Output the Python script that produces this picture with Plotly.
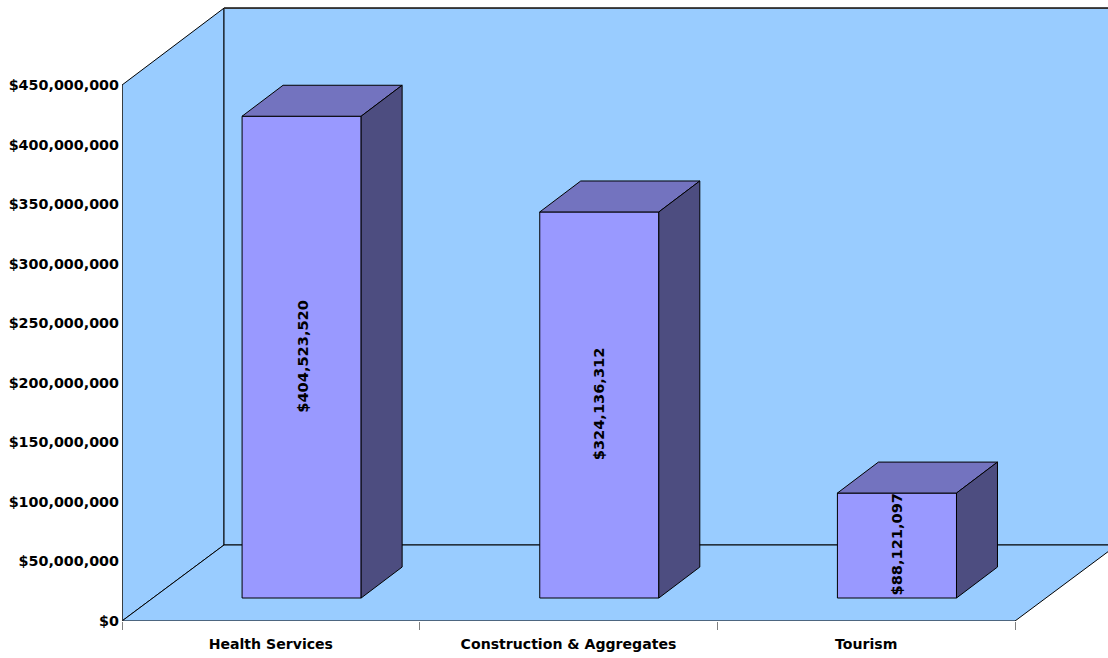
import plotly.graph_objects as go

categories = ["Health Services", "Construction & Aggregates", "Tourism"]
values = [404523520, 324136312, 88121097]
data_labels = ["$404,523,520", "$324,136,312", "$88,121,097"]
y_ticks = [0, 50e6, 100e6, 150e6, 200e6, 250e6, 300e6, 350e6, 400e6, 450e6]
y_tick_labels = ["$0", "$50,000,000", "$100,000,000", "$150,000,000", "$200,000,000",
                 "$250,000,000", "$300,000,000", "$350,000,000", "$400,000,000", "$450,000,000"]

WALL = "#99CCFF"
FRONT = "#9999FF"
TOP = "#7373BF"
SIDE = "#4D4D80"
FONT = "DejaVu Sans"

# axis geometry
y_max_axis = 450e6
y_top = 521.4e6
x_end = 3.3124
wall_dx, wall_dy = 0.3427, 63.8e6
wall_top = 514.6e6
bar_dx, bar_dy = 0.1377, 26.0e6
base_dx, base_dy = 0.1034, 19.3e6
bar_w = 0.4
bar_start = 0.3

fig = go.Figure()


def poly(xs, ys, color, width=1):
    fig.add_trace(go.Scatter(
        x=xs + xs[:1], y=ys + ys[:1], mode="lines", fill="toself", fillcolor=color,
        line=dict(color="#000000", width=width), hoverinfo="skip", showlegend=False,
        cliponaxis=False))


def edge(xs, ys):
    fig.add_trace(go.Scatter(
        x=xs, y=ys, mode="lines", line=dict(color="#333333", width=1.6),
        hoverinfo="skip", showlegend=False, cliponaxis=False))


n = len(categories)
# side wall, back wall, floor
poly([0, wall_dx, wall_dx, 0], [0, wall_dy, wall_top, y_max_axis], WALL)
poly([wall_dx, n + wall_dx, n + wall_dx, wall_dx],
     [wall_dy, wall_dy, wall_top, wall_top], WALL)
poly([0, n, n + wall_dx, wall_dx], [0, 0, wall_dy, wall_dy], WALL)
edge([0, 0], [0, y_max_axis])
edge([wall_dx, n + wall_dx], [wall_top, wall_top])

annotations = []
for i, (v, lab) in enumerate(zip(values, data_labels)):
    x0 = i + bar_start + base_dx
    x1 = x0 + bar_w
    y0 = base_dy
    y1 = base_dy + v
    poly([x0, x1, x1, x0], [y0, y0, y1, y1], FRONT)
    poly([x0, x1, x1 + bar_dx, x0 + bar_dx], [y1, y1, y1 + bar_dy, y1 + bar_dy], TOP)
    poly([x1, x1 + bar_dx, x1 + bar_dx, x1], [y0, y0 + bar_dy, y1 + bar_dy, y1], SIDE)
    annotations.append(dict(
        x=(x0 + x1) / 2, y=(y0 + y1) / 2, xref="x", yref="y", text=f"<b>{lab}</b>", textangle=-90,
        yshift=1, showarrow=False, font=dict(family=FONT, size=14.6, color="#000000")))

fig.update_layout(
    width=1108, height=658,
    margin=dict(l=122, r=0, t=0, b=37, autoexpand=False),
    paper_bgcolor="#FFFFFF", plot_bgcolor="#FFFFFF",
    showlegend=False, hovermode=False,
    annotations=annotations,
    font=dict(family=FONT, color="#000000"),
    xaxis=dict(
        range=[0, x_end], tickmode="array",
        tickvals=[i + 0.5 for i in range(n)], ticktext=[f"<b>{c}</b>" for c in categories],
        ticks="", showgrid=False, zeroline=False, showline=False, ticklabelstandoff=13,
        tickfont=dict(family=FONT, size=14.1, color="#000000"),
        minor=dict(tickmode="array", tickvals=list(range(n + 1)), ticks="outside",
                   ticklen=8, tickwidth=1, tickcolor="#808080", showgrid=False),
    ),
    yaxis=dict(
        range=[0, y_top], tickmode="array", tickvals=y_ticks,
        ticktext=[f"<b>{t}</b>" for t in y_tick_labels],
        ticks="", showgrid=False, zeroline=False, showline=False, ticklabelstandoff=2,
        tickfont=dict(family=FONT, size=14.3, color="#000000"),
    ),
)

fig.write_html("out.html", config={"displayModeBar": False},
               post_script="document.body.style.margin='0';document.documentElement.style.overflow='hidden';")
